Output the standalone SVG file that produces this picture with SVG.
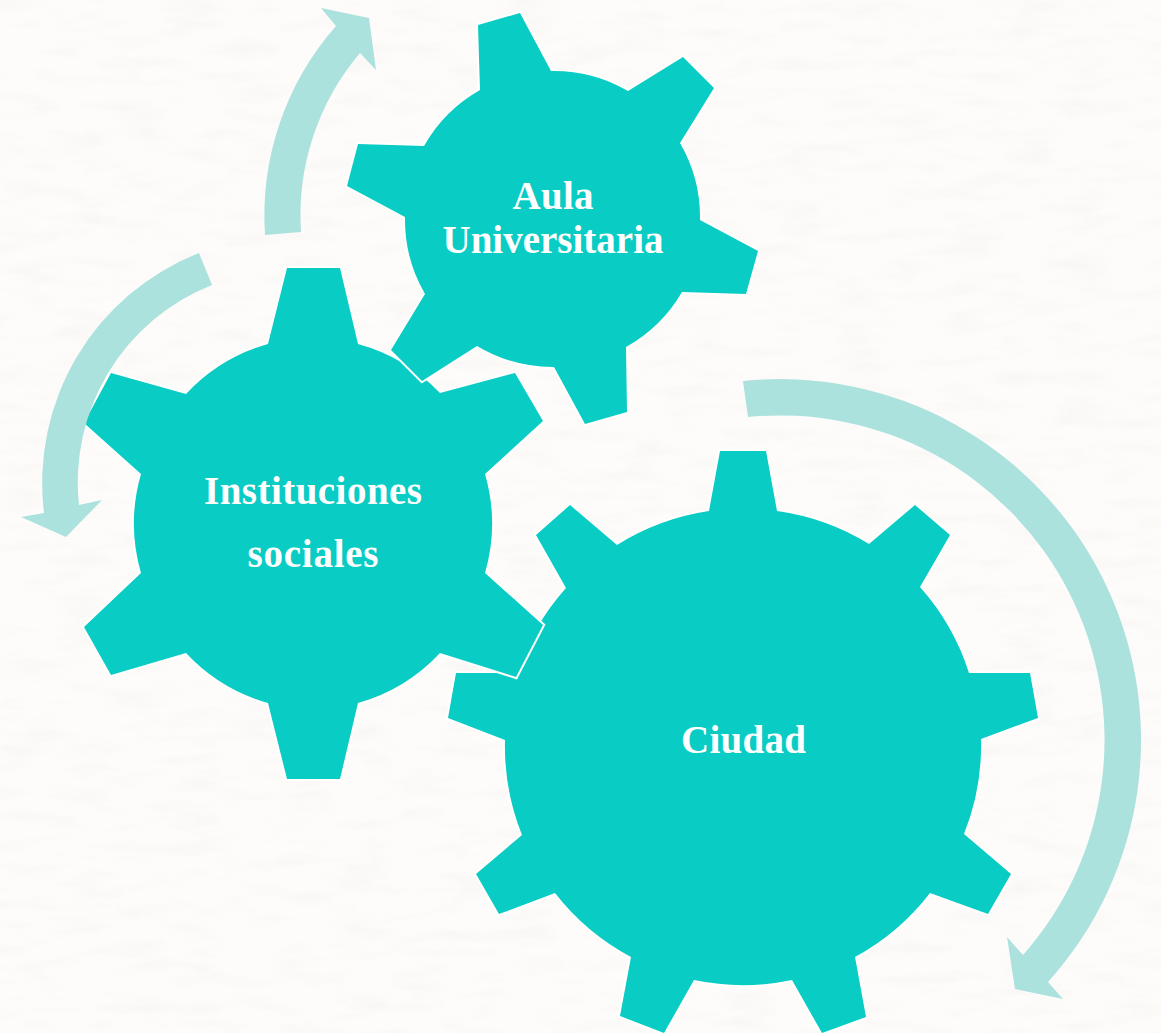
<svg xmlns="http://www.w3.org/2000/svg" width="1161" height="1033" viewBox="0 0 1161 1033">
<style>
.gear{fill:#09ccc4;stroke:#fff;stroke-width:4;stroke-linejoin:miter;paint-order:stroke}
.arrow{fill:#ace2dd}
.label{font-family:"Liberation Serif","Times New Roman",serif;font-weight:700;font-size:39px;fill:#fff;text-anchor:middle}
</style>
<defs>
<filter id="paper" x="0" y="0" width="100%" height="100%" color-interpolation-filters="sRGB">
<feTurbulence type="fractalNoise" baseFrequency="0.018 0.07" numOctaves="3" seed="4" result="n"/>
<feColorMatrix in="n" type="matrix" values="0 0 0 0 0.93  0 0 0 0 0.92  0 0 0 0 0.91  1.6 0 0 0 -0.72"/>
</filter>
</defs>
<rect id="background" width="1161" height="1033" fill="#fefcfa"/>
<rect width="1161" height="1033" filter="url(#paper)" opacity="0.4"/>
<g id="gear-ciudad">
<path class="gear" d="M720 451H766L777 511A238 238 0 0 1 869 544L915 505L950 535L920 587A238 238 0 0 1 969 673H1030L1038 718L981 739A238 238 0 0 1 964 834L1011 874L988 914L930 893A238 238 0 0 1 855 957L866 1017L822 1033L792 980A238 238 0 0 1 694 980L664 1033L620 1016L631 957A238 238 0 0 1 555 893L499 914L476 874L522 835A238 238 0 0 1 505 740L448 718L456 673H517A238 238 0 0 1 566 588L536 535L570 505L617 545A238 238 0 0 1 709 511Z"/>
<text class="label" x="743.500" y="753" textLength="125" lengthAdjust="spacing">Ciudad</text>
</g>
<g id="gear-instituciones">
<path class="gear" d="M287 268H340L358 344A178 178 0 0 1 440 393L515 373L543 421L485 474A178 178 0 0 1 485 573L543 625L516 677L440 653A178 178 0 0 1 358 703L340 779H287L268 703A178 178 0 0 1 186 653L111 675L84 627L141 573A178 178 0 0 1 141 474L84 423L111 373L186 394A178 178 0 0 1 268 344Z"/>
<text class="label" x="313" y="504" textLength="218" lengthAdjust="spacing">Instituciones</text>
<text class="label" x="313" y="567" textLength="131" lengthAdjust="spacing">sociales</text>
</g>
<g id="gear-aula">
<path class="gear" d="M478 25L520 13L551 71A148 148 0 0 1 628 91L683 57L714 88L680 143A148 148 0 0 1 700 220L758 251L746 294L682 292A148 148 0 0 1 626 347L627 412L585 424L554 367A148 148 0 0 1 477 346L422 381L391 350L425 294A148 148 0 0 1 405 217L347 186L358 144L424 146A148 148 0 0 1 480 90Z"/>
<text class="label" x="553" y="209" textLength="81" lengthAdjust="spacing">Aula</text>
<text class="label" x="553" y="253" textLength="221" lengthAdjust="spacing">Universitaria</text>
</g>
<g id="connectors">
<path class="arrow" d="M265 235A287 287 0 0 1 336 26L321 8L369 18L376 70L360 53A251 251 0 0 0 301 232Z"/>
<path class="arrow" d="M199 253A247 247 0 0 0 44 513L21 517L66 537L102 500L79 505A212 212 0 0 1 212 285Z"/>
<path class="arrow" d="M743 381A361 361 0 0 1 1048 982L1063 999L1015 989L1007 937L1023 955A324.500 324.500 0 0 0 748 417Z"/>
</g>
</svg>
